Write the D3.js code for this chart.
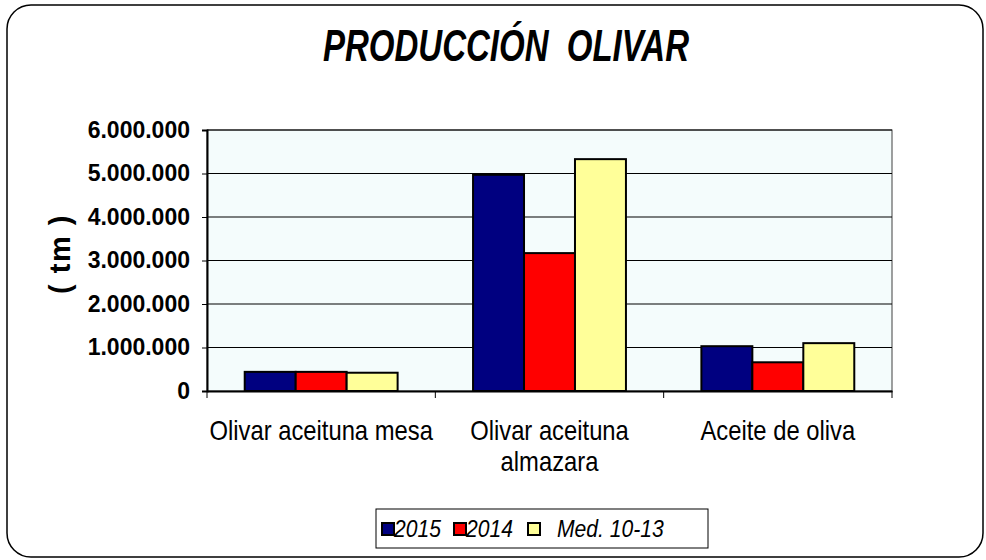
<!DOCTYPE html>
<html>
<head>
<meta charset="utf-8">
<title>Producción olivar</title>
<script src="https://cdn.jsdelivr.net/npm/d3@7"></script>
<style>
  body { margin: 0; background: #fff; }
  text { font-family: Arial, "Liberation Sans", sans-serif; }
</style>
</head>
<body>
<div id="grafico"></div>
<script>
// Datos
const categorias = ["Olivar aceituna mesa", "Olivar aceituna almazara", "Aceite de oliva"];
const etiquetasX = [["Olivar aceituna mesa"], ["Olivar aceituna", "almazara"], ["Aceite de oliva"]];
const series = ["2015", "2014", "Med. 10-13"];
const valores2015 = [440000, 4970000, 1030000];
const valores2014 = [440000, 3170000, 660000];
const valoresMedia = [420000, 5330000, 1100000];
const ticksY = [0, 1000000, 2000000, 3000000, 4000000, 5000000, 6000000];
const colores = ["#000080", "#FF0000", "#FFFF99"];

const valores = [valores2015, valores2014, valoresMedia];

const width = 986, height = 560;
const margin = { left: 207, right: 94, top: 130, bottom: 169 };

const svg = d3.select("#grafico")
  .append("svg")
  .attr("width", width)
  .attr("height", height);

// Marco redondeado
svg.append("rect")
  .attr("x", 7).attr("y", 5)
  .attr("width", 976).attr("height", 552)
  .attr("rx", 24)
  .attr("fill", "#fff")
  .attr("stroke", "#000")
  .attr("stroke-width", 1.5);

// Titulo (letra estrecha)
svg.append("text")
  .attr("transform", "translate(506,61) scale(0.75,1)")
  .attr("text-anchor", "middle")
  .attr("font-size", 44)
  .attr("font-weight", "bold")
  .attr("font-style", "italic")
  .attr("xml:space", "preserve")
  .text("PRODUCCIÓN  OLIVAR");

// Escalas
const x0 = d3.scaleBand()
  .domain(categorias)
  .range([margin.left, width - margin.right]);

const x1 = d3.scaleBand()
  .domain(series)
  .range([0, x0.bandwidth()])
  .paddingOuter(0.74);

const y = d3.scaleLinear()
  .domain([0, 6000000])
  .range([height - margin.bottom, margin.top]);

// Fondo del area de grafico
svg.append("rect")
  .attr("x", margin.left).attr("y", margin.top)
  .attr("width", width - margin.left - margin.right)
  .attr("height", height - margin.top - margin.bottom)
  .attr("fill", "#F4FCFC")
  .attr("stroke", "#404040")
  .attr("stroke-width", 1);

// Lineas de division
svg.append("g")
  .selectAll("line")
  .data(ticksY.slice(1))
  .join("line")
  .attr("x1", margin.left).attr("x2", width - margin.right)
  .attr("y1", d => y(d)).attr("y2", d => y(d))
  .attr("stroke", "#000")
  .attr("stroke-width", 1);

// Barras
const grupos = svg.append("g")
  .selectAll("g")
  .data(categorias)
  .join("g")
  .attr("transform", d => `translate(${x0(d)},0)`);

grupos.selectAll("rect")
  .data((c, i) => series.map((s, j) => ({ serie: s, valor: valores[j][i], color: colores[j] })))
  .join("rect")
  .attr("x", d => x1(d.serie))
  .attr("y", d => y(d.valor))
  .attr("width", x1.bandwidth())
  .attr("height", d => y(0) - y(d.valor))
  .attr("fill", d => d.color)
  .attr("stroke", "#000")
  .attr("stroke-width", 2);

// Eje Y
const ejeY = svg.append("g")
  .attr("transform", `translate(${margin.left},0)`)
  .call(d3.axisLeft(y)
    .tickValues(ticksY)
    .tickSize(5)
    .tickPadding(12)
    .tickFormat(d => d3.format(",")(d).replace(/,/g, ".")));
ejeY.select(".domain").attr("stroke-width", 2);
ejeY.selectAll("text")
  .attr("font-size", 23)
  .attr("font-weight", "bold")
  .attr("fill", "#000");

// Eje X
const ejeX = svg.append("g")
  .attr("transform", `translate(0,${y(0)})`)
  .call(d3.axisBottom(x0).tickSize(0).tickFormat(""));
ejeX.select(".domain").attr("stroke-width", 2);
ejeX.selectAll("text").remove();

// marcas entre categorias
const limites = categorias.map(c => x0(c)).concat([x0.range()[1]]);
ejeX.selectAll(".marca")
  .data(limites)
  .join("line")
  .attr("class", "marca")
  .attr("x1", d => d).attr("x2", d => d)
  .attr("y1", 0).attr("y2", 7)
  .attr("stroke", "#000");

// Etiquetas de categoria
const etiquetas = svg.append("g")
  .selectAll("text")
  .data(categorias)
  .join("text")
  .attr("transform", d => `translate(${x0(d) + x0.bandwidth() / 2},440) scale(0.85,1)`)
  .attr("text-anchor", "middle")
  .attr("font-size", 28);

etiquetas.selectAll("tspan")
  .data((d, i) => etiquetasX[i])
  .join("tspan")
  .attr("x", 0)
  .attr("dy", (d, i) => i === 0 ? 0 : 31)
  .text(d => d);

// Titulo eje Y
svg.append("text")
  .attr("transform", "translate(70,254) rotate(-90)")
  .attr("text-anchor", "middle")
  .attr("font-size", 29)
  .attr("font-weight", "bold")
  .attr("letter-spacing", 1.5)
  .attr("xml:space", "preserve")
  .text("( tm )");

// Leyenda
const leyenda = svg.append("g").attr("transform", "translate(376,509)");
leyenda.append("rect")
  .attr("width", 332).attr("height", 39)
  .attr("fill", "#fff")
  .attr("stroke", "#000")
  .attr("stroke-width", 1);

const posLeyenda = [6, 78, 152];
const posTexto = [18, 90, 181];
series.forEach((s, i) => {
  leyenda.append("rect")
    .attr("x", posLeyenda[i]).attr("y", 14)
    .attr("width", 12).attr("height", 12)
    .attr("fill", colores[i])
    .attr("stroke", "#000")
    .attr("stroke-width", 2);
  leyenda.append("text")
    .attr("transform", `translate(${posTexto[i]},28) scale(0.88,1)`)
    .attr("font-size", 24)
    .attr("font-style", "italic")
    .text(s);
});
</script>
</body>
</html>
